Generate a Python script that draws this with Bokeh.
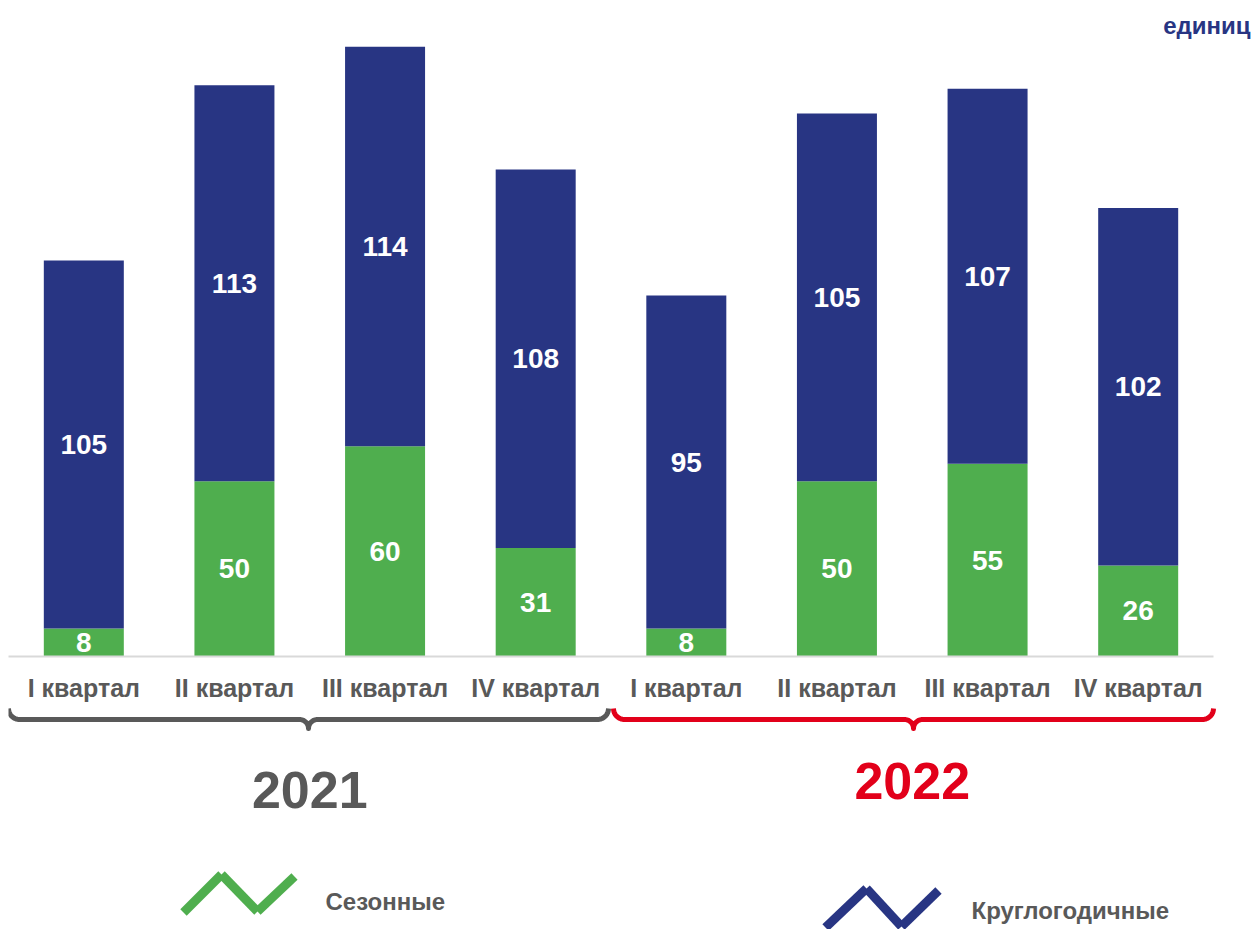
from bokeh.plotting import figure
from bokeh.models import ColumnDataSource, FixedTicker, Range1d
from bokeh.layouts import column
from bokeh.core.properties import value
from bokeh.embed import file_html
from bokeh.resources import INLINE
import numpy as np

# ---------------- data ----------------
quarters = ["I квартал", "II квартал", "III квартал", "IV квартал",
            "I квартал", "II квартал", "III квартал", "IV квартал"]
years = ["2021", "2022"]
seasonal = [8, 50, 60, 31, 8, 50, 55, 26]
year_round = [105, 113, 114, 108, 95, 105, 107, 102]
series_names = ["Сезонные", "Круглогодичные"]
unit_label = "единиц"

# ---------------- style ----------------
NAVY = "#283583"
GREEN = "#4FAE4E"
GRAY = "#595959"
RED = "#E2001A"
AXIS = "#D9D9D9"
FONT = "Liberation Sans"

OFF = 8           # left/top offset inside canvas
W = 1247          # frame width
PX = 150.625      # pixels per category
YS = 3.504        # pixels per unit
FRAME_H = 648
H1 = OFF + 698
H2 = 929 - H1

x = [i + 0.5 for i in range(len(quarters))]
src = ColumnDataSource(dict(
    x=x, seasonal=seasonal, year_round=year_round,
    s_mid=[v / 2 for v in seasonal],
    y_mid=[s + v / 2 for s, v in zip(seasonal, year_round)],
    s_txt=[str(v) for v in seasonal],
    y_txt=[str(v) for v in year_round],
))

xr = Range1d(0, W / PX)
p1 = figure(width=W + OFF, height=H1, x_range=xr, y_range=Range1d(0, FRAME_H / YS),
            output_backend="svg", toolbar_location=None,
            min_border_left=OFF, min_border_right=0, min_border_top=OFF,
            min_border_bottom=H1 - FRAME_H - OFF, outline_line_color=None,
            y_axis_location=None)
p1.grid.visible = False
p1.vbar_stack(["seasonal", "year_round"], x="x", width=80 / PX,
              color=[GREEN, NAVY], line_color=None, source=src)

lbl = dict(text_color="white", text_font=value(FONT), text_font_style="bold",
           text_font_size="28px", text_align="center", text_baseline="middle")
p1.text(x="x", y="s_mid", text="s_txt", source=src, **lbl)
p1.text(x="x", y="y_mid", text="y_txt", source=src, **lbl)

p1.text(x=[1242 / PX], y=[(FRAME_H - 17) / YS], text=[unit_label],
        text_color=NAVY, text_font=value(FONT), text_font_style="bold",
        text_font_size="24px", text_align="right", text_baseline="middle")

ax = p1.xaxis[0]
ax.ticker = FixedTicker(ticks=x)
ax.major_label_overrides = {xi: q for xi, q in zip(x, quarters)}
ax.bounds = (0, len(quarters))
ax.axis_line_color = AXIS
ax.axis_line_width = 2
ax.major_tick_line_color = None
ax.minor_tick_line_color = None
ax.major_tick_out = 0
ax.major_label_standoff = 17
ax.major_label_text_font = FONT
ax.major_label_text_font_style = "bold"
ax.major_label_text_font_size = "25px"
ax.major_label_text_color = GRAY

# ---------------- lower panel: braces, years, legend ----------------
p2 = figure(width=W + OFF, height=H2, x_range=xr, y_range=Range1d(H2, 0),
            output_backend="svg", toolbar_location=None,
            min_border_left=OFF, min_border_right=0, min_border_top=0,
            min_border_bottom=0, outline_line_color=None,
            x_axis_location=None, y_axis_location=None)
p2.grid.visible = False

TOP0 = H1  # page y of p2 top


def brace(x0, x1, top, h, r_mid):
    """Curly brace path in pixel coords (x in px from frame left, y down)."""
    r_end = h - top
    xc = (x0 + x1) / 2
    t = np.linspace(0, np.pi / 2, 12)
    xs, ys = [], []
    xs += list(x0 + r_end - r_end * np.cos(t)); ys += list(h - r_end + r_end * np.sin(t))
    xs += list(xc - r_mid + r_mid * np.sin(t)); ys += list(h + r_mid - r_mid * np.cos(t))
    xs += list(xc + r_mid - r_mid * np.cos(t)); ys += list(h + r_mid - r_mid * np.sin(t))
    xs += list(x1 - r_end + r_end * np.sin(t)); ys += list(h - r_end + r_end * np.cos(t))
    return [v / PX for v in xs], ys


n = len(quarters) // 2
for k, col in enumerate([GRAY, RED]):
    gap = 2.5
    x0 = k * n * PX + (gap if k else 0)
    x1 = (k + 1) * n * PX - (0 if k else gap)
    bx, by = brace(x0, x1, 708 - TOP0, 719 - TOP0, 9)
    p2.line(bx, by, line_color=col, line_width=5, line_join="round", line_cap="butt")

year_y = [789 - TOP0, 780 - TOP0]
p2.text(x=[n / 2, n + n / 2], y=year_y, text=years,
        text_color=[GRAY, RED], text_font=value(FONT), text_font_style="bold",
        text_font_size="52px", text_align="center", text_baseline="middle")

# legend (zigzag icons)
zig_green = [(183, 912), (221, 874), (257, 911), (294, 876)]
zig_navy = [(825, 927), (866, 888), (901, 926), (938, 890)]
for pts, col in [(zig_green, GREEN), (zig_navy, NAVY)]:
    xs = [(px - OFF) / PX for px, _ in pts]
    ys = [py - TOP0 for _, py in pts]
    p2.segment(x0=xs[:-1], y0=ys[:-1], x1=xs[1:], y1=ys[1:],
               line_color=col, line_width=9, line_cap="butt")

p2.text(x=[(325 - OFF) / PX, (971 - OFF) / PX], y=[901 - TOP0, 910 - TOP0],
        text=series_names, text_color=GRAY, text_font=value(FONT),
        text_font_style="bold", text_font_size="24px",
        text_align="left", text_baseline="middle")

layout = column(p1, p2, spacing=0)
open("out.html", "w").write(file_html(layout, INLINE))
